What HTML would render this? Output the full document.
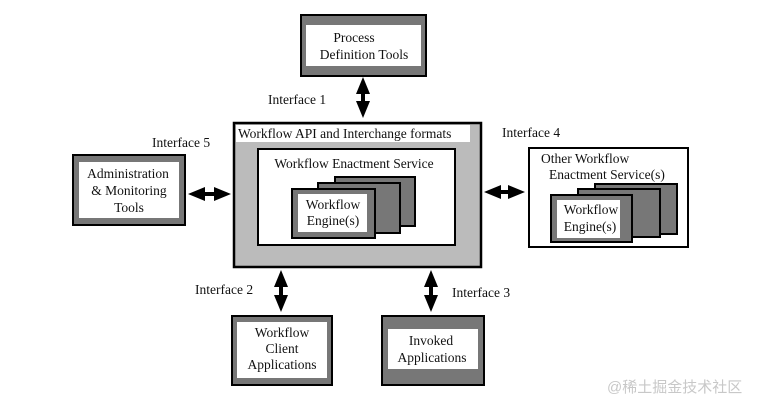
<!DOCTYPE html>
<html><head><meta charset="utf-8"><style>
html,body{margin:0;padding:0;background:#fff;width:758px;height:402px;overflow:hidden}
svg{display:block}
</style></head><body>
<svg width="758" height="402" viewBox="0 0 758 402" xmlns="http://www.w3.org/2000/svg">
<g font-family="'Liberation Serif', 'DejaVu Serif', serif" font-size="13.5" fill="#111">
<!-- Process Definition Tools -->
<rect x="301" y="15" width="125" height="61" fill="#777" stroke="#000" stroke-width="2"/>
<rect x="306" y="25" width="115" height="41" fill="#fff"/>
<text x="354" y="42" text-anchor="middle">Process</text>
<text x="364" y="59" text-anchor="middle">Definition Tools</text>

<!-- Admin -->
<rect x="73" y="155" width="112" height="70" fill="#777" stroke="#000" stroke-width="2"/>
<rect x="79" y="162" width="100" height="56" fill="#fff"/>
<text x="128" y="178" text-anchor="middle">Administration</text>
<text x="129" y="195" text-anchor="middle">&amp; Monitoring</text>
<text x="129" y="212" text-anchor="middle">Tools</text>

<!-- Main box -->
<rect x="234" y="123" width="247" height="144" fill="#bbb" stroke="#000" stroke-width="2.5"/>
<rect x="236" y="125" width="234" height="17" fill="#fff"/>
<text x="238" y="138">Workflow API and Interchange formats</text>
<rect x="258" y="149" width="197" height="96" fill="#fff" stroke="#000" stroke-width="2"/>
<text x="354" y="168" text-anchor="middle">Workflow Enactment Service</text>
<rect x="335" y="177" width="80" height="49" fill="#777" stroke="#000" stroke-width="2"/>
<rect x="318" y="183" width="82" height="50" fill="#777" stroke="#000" stroke-width="2"/>
<rect x="292" y="189" width="83" height="49" fill="#777" stroke="#000" stroke-width="2"/>
<rect x="298" y="194" width="69" height="38" fill="#fff"/>
<text x="333" y="209" text-anchor="middle">Workflow</text>
<text x="333" y="225" text-anchor="middle">Engine(s)</text>

<!-- Other service -->
<rect x="529" y="148" width="159" height="99" fill="#fff" stroke="#000" stroke-width="2"/>
<text x="541" y="163">Other Workflow</text>
<text x="549" y="179">Enactment Service(s)</text>
<rect x="595" y="184" width="82" height="50" fill="#777" stroke="#000" stroke-width="2"/>
<rect x="578" y="189" width="82" height="48" fill="#777" stroke="#000" stroke-width="2"/>
<rect x="551" y="195" width="81" height="47" fill="#777" stroke="#000" stroke-width="2"/>
<rect x="557" y="200" width="63" height="38" fill="#fff"/>
<text x="591" y="214" text-anchor="middle">Workflow</text>
<text x="590" y="231" text-anchor="middle">Engine(s)</text>

<!-- Client -->
<rect x="232" y="316" width="100" height="69" fill="#777" stroke="#000" stroke-width="2"/>
<rect x="237" y="322" width="90" height="56" fill="#fff"/>
<text x="282" y="337" text-anchor="middle">Workflow</text>
<text x="282" y="353" text-anchor="middle">Client</text>
<text x="282" y="369" text-anchor="middle">Applications</text>

<!-- Invoked -->
<rect x="382" y="316" width="102" height="69" fill="#777" stroke="#000" stroke-width="2"/>
<rect x="388" y="329" width="90" height="40" fill="#fff"/>
<text x="431" y="345" text-anchor="middle">Invoked</text>
<text x="432" y="362" text-anchor="middle">Applications</text>

<!-- Arrows -->
<g fill="#000">
<polygon points="363,77 370,94 365,94 365,101 370,101 363,118 356,101 361,101 361,94 356,94"/>
<polygon points="281,270 288,287 283,287 283,295 288,295 281,312 274,295 279,295 279,287 274,287"/>
<polygon points="431,270 438,287 433,287 433,295 438,295 431,312 424,295 429,295 429,287 424,287"/>
<polygon points="188,194 205,187 205,192 214,192 214,187 231,194 214,201 214,196 205,196 205,201"/>
<polygon points="484,192 501,185 501,190 508,190 508,185 525,192 508,199 508,194 501,194 501,199"/>
</g>

<text x="268" y="104">Interface 1</text>
<text x="152" y="147">Interface 5</text>
<text x="502" y="137">Interface 4</text>
<text x="195" y="294">Interface 2</text>
<text x="452" y="297">Interface 3</text>
</g>
<text x="607" y="392" font-family="'Liberation Sans','Noto Sans CJK SC',sans-serif" font-size="15" fill="#c8c8c8">@稀土掘金技术社区</text>
</svg>
</body></html>
